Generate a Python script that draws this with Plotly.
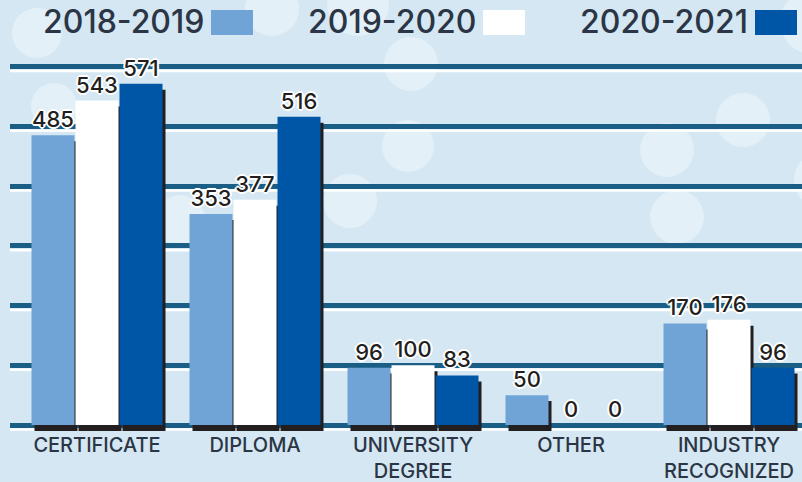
import plotly.graph_objects as go

# ---- data ----
categories = ["CERTIFICATE", "DIPLOMA", "UNIVERSITY<br>DEGREE", "OTHER", "INDUSTRY<br>RECOGNIZED"]
series_names = ["2018-2019", "2019-2020", "2020-2021"]
values_2018_2019 = [485, 353, 96, 50, 170]
values_2019_2020 = [543, 377, 100, 0, 176]
values_2020_2021 = [571, 516, 83, 0, 96]
gridline_values = [0, 100, 200, 300, 400, 500, 600]

series_values = [values_2018_2019, values_2019_2020, values_2020_2021]
colors = ["#71a4d6", "#ffffff", "#0056a6"]

# ---- layout geometry ----
W, H = 802, 482
ML, MR, MT, MB = 10, 0, 30, 48
PW, PH = W - ML - MR, H - MT - MB
K = 0.5975            # px per unit
ZERO_PX = 425
ymin = -(MT + PH - ZERO_PX) / K
ymax = (ZERO_PX - MT) / K
CAT_PX = 158.0
FIRST_CENTER = 97.0
xmin = -(FIRST_CENTER - ML) / CAT_PX
xmax = xmin + PW / CAT_PX

def px_x(px):
    return (px - ML) / PW

def px_y(py):
    return (MT + PH - py) / PH

BG = "#d4e7f2"
BUBBLE = "#e4f0f8"
GRID = "#1a5e86"
TEXT = "#2b3545"
FONT = "Inter, 'DejaVu Sans', sans-serif"

bar_w = 43 / CAT_PX
x_idx = list(range(len(categories)))

fig = go.Figure()

# shadows first
for i, vals in enumerate(series_values):
    off = (-65.5 + 44 * i) / CAT_PX + 3 / CAT_PX
    fig.add_trace(go.Bar(
        x=x_idx, y=vals, base=-10, width=bar_w, offset=off,
        marker=dict(color="#231f20", line=dict(width=0)),
        hoverinfo="skip", showlegend=False,
    ))

outline = ("1px 1px 0 #fff, -1px -1px 0 #fff, 1px -1px 0 #fff, -1px 1px 0 #fff, "
           "0 2px 0 #fff, 0 -2px 0 #fff, 2px 0 0 #fff, -2px 0 0 #fff")
for i, vals in enumerate(series_values):
    off = (-65.5 + 44 * i) / CAT_PX
    fig.add_trace(go.Bar(
        x=x_idx, y=vals, width=bar_w, offset=off, name=series_names[i],
        marker=dict(color=colors[i], line=dict(width=0)),
        text=[str(v) for v in vals], textposition="outside", cliponaxis=False,
        textfont=dict(family=FONT, size=22, weight=500, color="#231f20", shadow=outline),
        showlegend=False,
    ))

shapes = []
# background bubbles (paper coords)
bubbles = [(37, 33, 25), (272, 9, 27), (358, 5, 31), (411, 64, 27), (408, 146, 26),
           (350, 201, 27), (743, 120, 27), (667, 150, 27), (677, 217, 27),
           (812, 22, 32), (822, 180, 28), (54, 106, 23), (180, 220, 25)]
for cx, cy, r in bubbles:
    shapes.append(dict(type="circle", xref="paper", yref="paper", layer="below",
                       x0=px_x(cx - r), x1=px_x(cx + r), y0=px_y(cy + r), y1=px_y(cy - r),
                       fillcolor=BUBBLE, line=dict(width=0)))
# white highlight line under each gridline
for v in gridline_values:
    yy = v - 4.5 / K
    shapes.append(dict(type="line", xref="paper", yref="y", layer="below",
                       x0=0, x1=1, y0=yy, y1=yy, line=dict(color="#ffffff", width=2.5)))

# legend (text + swatch on right)
swatch_left = [211, 483, 755]
annotations = []
for i, name in enumerate(series_names):
    sl = swatch_left[i]
    shapes.append(dict(type="rect", xref="paper", yref="paper",
                       x0=px_x(sl), x1=px_x(sl + 42), y0=px_y(35), y1=px_y(10),
                       fillcolor=colors[i], line=dict(width=0)))
    annotations.append(dict(xref="paper", yref="paper", x=px_x(sl - 5), y=px_y(22),
                            xanchor="right", yanchor="middle", showarrow=False,
                            text=name, font=dict(family=FONT, size=32, weight=500, color=TEXT)))

fig.update_layout(
    width=W, height=H,
    margin=dict(l=ML, r=MR, t=MT, b=MB, pad=0, autoexpand=False),
    paper_bgcolor=BG, plot_bgcolor="rgba(0,0,0,0)",
    barmode="overlay",
    showlegend=False,
    shapes=shapes, annotations=annotations,
    xaxis=dict(range=[xmin, xmax], tickmode="array", tickvals=x_idx, ticktext=categories,
               showgrid=False, zeroline=False, showline=False, ticks="", automargin=False,
               ticklabelstandoff=-3,
               tickfont=dict(family=FONT, size=20, weight=500, color=TEXT)),
    yaxis=dict(range=[ymin, ymax], tickmode="array", tickvals=gridline_values,
               showticklabels=False, showgrid=True, gridcolor=GRID, gridwidth=5,
               zeroline=False, showline=False, ticks="", automargin=False),
)

fig.write_html("out.html", config={"displayModeBar": False},
               post_script="document.body.style.margin='0';document.body.style.overflow='hidden';")
